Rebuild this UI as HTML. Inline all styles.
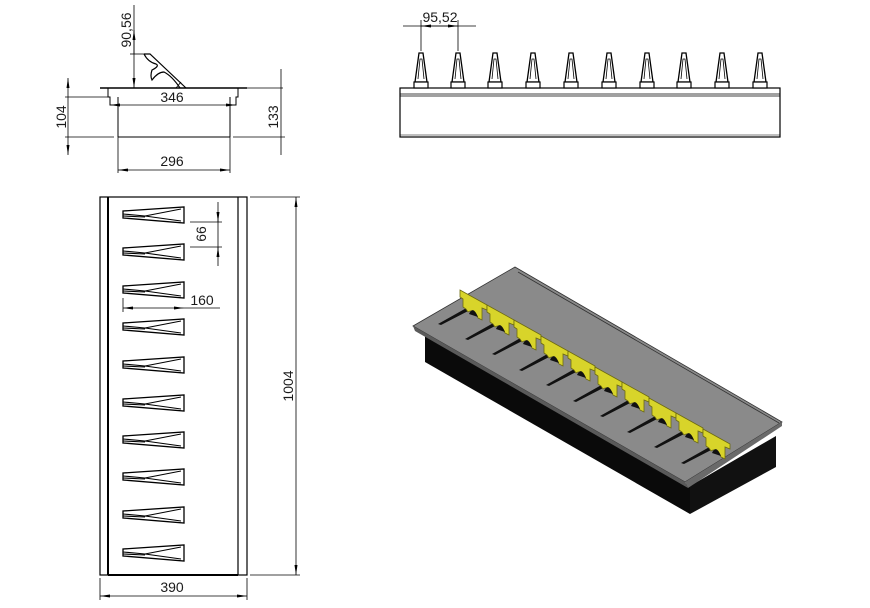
<!DOCTYPE html>
<html><head><meta charset="utf-8"><style>
html,body{margin:0;padding:0;background:#fff;width:870px;height:608px;overflow:hidden}
svg text{font-family:"Liberation Sans",sans-serif;font-size:14px;fill:#1a1a1a}
</style></head><body>
<svg width="870" height="608" viewBox="0 0 870 608" xmlns="http://www.w3.org/2000/svg">
<defs>
<marker id="a" viewBox="0 0 10 6" refX="10" refY="3" markerWidth="10" markerHeight="6" orient="auto-start-reverse" markerUnits="userSpaceOnUse"><path d="M0,1.5 L10,3 L0,4.5z" fill="#000"/></marker>
<g id="ps">
<path d="M0,-4 L0,3 L61,8 L61,-8 Z" fill="#fff" stroke="#000" stroke-width="1.3"/>
<path d="M0,-1 L22,1 L58,-6 M0,1 L22,2 M22,1 L58,6" fill="none" stroke="#000" stroke-width="1.1"/>
</g>
<g id="es">
<path d="M-6,29 L-2,0 L2,0 L6,29 Z" fill="#fff" stroke="#000" stroke-width="1.3"/>
<path d="M-3,26 L-1,6 L1,6 L3,26" fill="none" stroke="#000" stroke-width="0.8"/>
<rect x="-7" y="29" width="14" height="6" fill="#fff" stroke="#000" stroke-width="1.2"/>
</g>
<g id="ys">
<path d="M10,16 L-22,34 L-19,35 L12,19 Z" fill="#111"/>
<path d="M0,0 L27,15 L27,20 L22,18 L22,30 L18,28 Q14,18 8,22 L6,19 L3,17 L3,9 L0,7 Z" fill="#d8d42a" stroke="#6d6a10" stroke-width="0.8"/>
<path d="M9,24 Q13,15 18,27 Z" fill="#111"/>
</g>
</defs>

<g stroke="#000" fill="none" stroke-width="1">
<line x1="100" y1="88" x2="247" y2="88" stroke-width="1.5"/>
<line x1="210" y1="88" x2="283" y2="88" stroke-width="0.8"/>
<path d="M108,88 L108,97 L110,97 L110,105 L118,105 M238,88 L238,97 L236,97 L236,105 L230,105"/>
<line x1="118" y1="97" x2="118" y2="137"/>
<line x1="230" y1="97" x2="230" y2="137"/>
<line x1="118" y1="137" x2="230" y2="137"/>
<path d="M144,54 L150,54 L186,88 M144,54 Q148,62 156,64 Q160,66 152,70 Q150,76 152,80 Q158,72 164,72 Q172,76 180,88" stroke-width="1.2"/>
<line x1="176" y1="88" x2="181" y2="82" stroke-width="0.8"/>
<line x1="134" y1="5" x2="134" y2="88" stroke-width="0.8" marker-end="url(#a)"/>
<line x1="134" y1="54" x2="134" y2="30" stroke-width="0.8" marker-end="url(#a)"/>
<line x1="130" y1="54" x2="146" y2="54" stroke-width="0.8"/>
<line x1="68" y1="78" x2="68" y2="155" stroke-width="0.8" marker-start="url(#a)" marker-end="url(#a)"/>
<line x1="65" y1="97" x2="108" y2="97" stroke-width="0.8"/>
<line x1="65" y1="137" x2="114" y2="137" stroke-width="0.8"/>
<line x1="110" y1="105" x2="236" y2="105" stroke-width="0.8" marker-start="url(#a)" marker-end="url(#a)"/>
<line x1="281" y1="69" x2="281" y2="155" stroke-width="0.8"/>
<line x1="233" y1="137" x2="285" y2="137" stroke-width="0.8"/>
<line x1="118" y1="137" x2="118" y2="173" stroke-width="0.8"/>
<line x1="230" y1="137" x2="230" y2="173" stroke-width="0.8"/>
<line x1="118" y1="170" x2="230" y2="170" stroke-width="0.8" marker-start="url(#a)" marker-end="url(#a)"/>
</g>
<text x="172" y="102" text-anchor="middle">346</text>
<text x="172" y="166" text-anchor="middle">296</text>
<text transform="translate(131,30) rotate(-90)" text-anchor="middle">90,56</text>
<text transform="translate(66,117) rotate(-90)" text-anchor="middle">104</text>
<text transform="translate(278,117) rotate(-90)" text-anchor="middle">133</text>

<g stroke="#000" fill="none">
<rect x="400" y="88" width="380" height="49" stroke-width="1.2"/>
<line x1="400" y1="94" x2="780" y2="94" stroke-width="0.8"/>
<line x1="400" y1="96" x2="780" y2="96" stroke-width="0.8"/>
<line x1="400" y1="135" x2="780" y2="135" stroke-width="0.6"/>
<line x1="421" y1="20" x2="421" y2="51" stroke-width="0.8"/>
<line x1="458" y1="20" x2="458" y2="51" stroke-width="0.8"/>
<line x1="403" y1="26" x2="476" y2="26" stroke-width="0.8"/>
<line x1="421" y1="26" x2="458" y2="26" stroke-width="0.8" marker-start="url(#a)" marker-end="url(#a)"/>
</g>
<text x="440" y="22" text-anchor="middle">95,52</text>
<use href="#es" x="421" y="53"/><use href="#es" x="458" y="53"/><use href="#es" x="495" y="53"/><use href="#es" x="533" y="53"/><use href="#es" x="571" y="53"/><use href="#es" x="609" y="53"/><use href="#es" x="647" y="53"/><use href="#es" x="684" y="53"/><use href="#es" x="722" y="53"/><use href="#es" x="760" y="53"/>

<g stroke="#000" fill="none">
<rect x="100" y="197" width="147" height="378" stroke-width="1.2"/>
<line x1="108" y1="197" x2="108" y2="575" stroke-width="2"/>
<line x1="238" y1="197" x2="238" y2="575" stroke-width="1.2"/>
<line x1="108" y1="575" x2="238" y2="575" stroke-width="2"/>
<line x1="250" y1="197" x2="300" y2="197" stroke-width="0.8"/>
<line x1="250" y1="575" x2="300" y2="575" stroke-width="0.8"/>
<line x1="296" y1="197" x2="296" y2="575" stroke-width="0.8" marker-start="url(#a)" marker-end="url(#a)"/>
<line x1="190" y1="222" x2="222" y2="222" stroke-width="0.8"/>
<line x1="190" y1="247" x2="222" y2="247" stroke-width="0.8"/>
<line x1="218" y1="202" x2="218" y2="266" stroke-width="0.8"/>
<line x1="218" y1="212" x2="218" y2="222" stroke-width="0.8" marker-end="url(#a)"/>
<line x1="218" y1="257" x2="218" y2="247" stroke-width="0.8" marker-end="url(#a)"/>
<line x1="123" y1="298" x2="123" y2="312" stroke-width="0.8"/>
<line x1="123" y1="308" x2="184" y2="308" stroke-width="0.8" marker-start="url(#a)" marker-end="url(#a)"/>
<line x1="184" y1="308" x2="220" y2="308" stroke-width="0.8"/>
<line x1="100" y1="578" x2="100" y2="600" stroke-width="0.8"/>
<line x1="247" y1="578" x2="247" y2="600" stroke-width="0.8"/>
<line x1="100" y1="596" x2="247" y2="596" stroke-width="0.8" marker-start="url(#a)" marker-end="url(#a)"/>
</g>
<use href="#ps" x="123" y="215"/><use href="#ps" x="123" y="252"/><use href="#ps" x="123" y="290"/><use href="#ps" x="123" y="327"/><use href="#ps" x="123" y="365"/><use href="#ps" x="123" y="403"/><use href="#ps" x="123" y="440"/><use href="#ps" x="123" y="477"/><use href="#ps" x="123" y="515"/><use href="#ps" x="123" y="553"/>
<text transform="translate(206,234) rotate(-90)" text-anchor="middle">66</text>
<text x="202" y="305" text-anchor="middle">160</text>
<text x="172" y="592" text-anchor="middle">390</text>
<text transform="translate(293,386) rotate(-90)" text-anchor="middle">1004</text>

<polygon points="425,333 690,486 690,514 425,362" fill="#0a0a0a"/>
<polygon points="690,486 776,436 776,467 690,514" fill="#111"/>
<polygon points="413,326 515,267 782,422 685,482" fill="#8a8a8a" stroke="#333" stroke-width="0.8"/>
<polygon points="413,326 685,482 688,488 415,331" fill="#5a5a5a"/>
<polygon points="685,482 782,422 782,426 688,488" fill="#6a6a6a"/>
<line x1="518" y1="272" x2="779" y2="423" stroke="#333" stroke-width="0.8"/>
<use href="#ys" x="460" y="290"/><use href="#ys" x="487" y="305"/><use href="#ys" x="514" y="320"/><use href="#ys" x="541" y="336"/><use href="#ys" x="568" y="351"/><use href="#ys" x="595" y="367"/><use href="#ys" x="622" y="382"/><use href="#ys" x="649" y="398"/><use href="#ys" x="676" y="413"/><use href="#ys" x="703" y="429"/>
</svg>
</body></html>
